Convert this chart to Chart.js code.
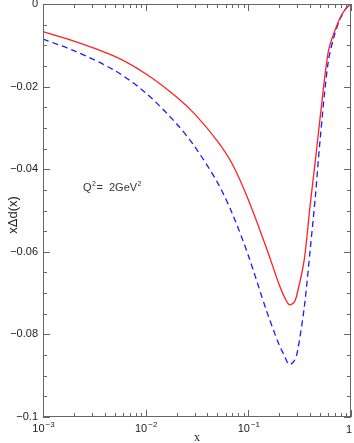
<!DOCTYPE html>
<html>
<head>
<meta charset="utf-8">
<script src="https://cdn.jsdelivr.net/npm/chart.js@4.4.1/dist/chart.umd.min.js"></script>
<style>
  html, body { margin: 0; padding: 0; background: #fff; }
  #wrap { width: 354px; height: 443px; }
</style>
</head>
<body>
<div id="wrap"><canvas id="myChart" width="354" height="443"></canvas></div>
<script>
// values
let xs = [0.001, 0.002, 0.005, 0.01, 0.02, 0.03, 0.05, 0.07, 0.1, 0.15, 0.2, 0.22, 0.25, 0.28, 0.3, 0.35, 0.4, 0.45, 0.5, 0.6, 0.7, 0.8, 0.9, 1]
let redVals = [-0.0067, -0.0090, -0.0127, -0.0169, -0.0225, -0.0266, -0.0332, -0.0388, -0.0474, -0.0591, -0.0680, -0.0705, -0.0728, -0.0722, -0.0700, -0.0620, -0.0487, -0.0378, -0.0276, -0.0116, -0.0063, -0.0029, -0.0010, 0]
let blueVals = [-0.0085, -0.0113, -0.0161, -0.0215, -0.0290, -0.0345, -0.0432, -0.0508, -0.0609, -0.0742, -0.0826, -0.0847, -0.0873, -0.0864, -0.0843, -0.0736, -0.0596, -0.0465, -0.0329, -0.0140, -0.0070, -0.0031, -0.0010, 0]
let yTicks = [0, -0.02, -0.04, -0.06, -0.08, -0.1]
let yTickLabels = ["0", "\u22120.02", "\u22120.04", "\u22120.06", "\u22120.08", "\u22120.1"]
let xTicks = [0.001, 0.01, 0.1, 1]
let xTickExp = ["\u22123", "\u22122", "\u22121", ""]

function pts(vals) {
  let out = []
  for (let i = 0; i < xs.length; i++) out.push({x: xs[i], y: vals[i]})
  return out
}

// frame, inward ticks, labels drawn with the chart's scales
let framePlugin = {
  id: "frame",
  afterDraw(chart) {
    let c = chart.ctx
    let a = chart.chartArea
    let sx = chart.scales.x
    let sy = chart.scales.y
    c.save()
    c.strokeStyle = "#666"
    c.lineWidth = 1
    c.strokeRect(a.left + 0.5, a.top + 0.5, a.right - a.left - 1, a.bottom - a.top - 1)
    c.beginPath()
    // x ticks, decades major, 2..9 minor
    for (let d = -3; d <= 0; d++) {
      for (let m = 1; m <= 9; m++) {
        let v = m * Math.pow(10, d)
        if (v > 1.0001) break
        let px = Math.round(sx.getPixelForValue(v)) + 0.5
        let len = m == 1 ? 7 : 4
        c.moveTo(px, a.bottom); c.lineTo(px, a.bottom - len)
        c.moveTo(px, a.top); c.lineTo(px, a.top + len)
      }
    }
    // y ticks every 0.005
    for (let k = 0; k <= 20; k++) {
      let v = -k * 0.005
      let py = Math.round(sy.getPixelForValue(v)) + 0.5
      let len = k % 4 == 0 ? 7 : 4
      c.moveTo(a.left, py); c.lineTo(a.left + len, py)
      c.moveTo(a.right, py); c.lineTo(a.right - len, py)
    }
    c.stroke()

    c.fillStyle = "#222"
    c.font = "11px 'Liberation Sans'"
    c.textAlign = "right"
    c.textBaseline = "middle"
    yTicks.forEach((v, i) => {
      c.fillText(yTickLabels[i], a.left - 5, sy.getPixelForValue(v))
    })

    c.textBaseline = "alphabetic"
    xTicks.forEach((v, i) => {
      let px = sx.getPixelForValue(v)
      c.font = "11px 'Liberation Sans'"
      if (xTickExp[i] == "") {
        c.textAlign = "center"
        c.fillText("1", px - 2, a.bottom + 16)
        return
      }
      let w1 = c.measureText("10").width
      c.font = "8px 'Liberation Sans'"
      let w2 = c.measureText(xTickExp[i]).width
      let x0 = px - (w1 + w2) / 2
      c.textAlign = "left"
      c.fillText(xTickExp[i], x0 + w1 + 1, a.bottom + 10)
      c.font = "11px 'Liberation Sans'"
      c.fillText("10", x0, a.bottom + 15)
    })

    // axis titles
    c.textAlign = "center"
    c.font = "12px 'Liberation Serif'"
    c.fillText("x", (a.left + a.right) / 2, 441)
    c.save()
    c.translate(13, 215)
    c.rotate(-Math.PI / 2)
    c.font = "13px 'Liberation Sans'"
    c.textBaseline = "middle"
    c.fillText("x\u0394d(x)", 0, 0)
    c.restore()

    // Q^2 label
    c.textAlign = "left"
    c.fillStyle = "#333"
    c.font = "11px 'Liberation Sans'"
    let tx = 83, ty = 191
    c.fillText("Q", tx, ty)
    tx += c.measureText("Q").width
    c.font = "7px 'Liberation Sans'"
    c.fillText("2", tx + 0.5, ty - 5)
    tx += c.measureText("2").width + 1
    c.font = "11px 'Liberation Sans'"
    c.fillText("=  2GeV", tx, ty)
    tx += c.measureText("=  2GeV").width
    c.font = "7px 'Liberation Sans'"
    c.fillText("2", tx + 0.5, ty - 5)
    c.restore()
  }
}

let ctx = document.getElementById("myChart").getContext("2d")
let myChart = new Chart(ctx, {
  type: "line",
  data: {
    datasets: [{
      data: pts(redVals),
      borderColor: "#ff2020",
      borderWidth: 1.3,
      pointRadius: 0,
      fill: false,
      tension: 0.3
    }, {
      data: pts(blueVals),
      borderColor: "#1a1aff",
      borderWidth: 1.3,
      borderDash: [6, 4],
      pointRadius: 0,
      fill: false,
      tension: 0.3
    }]
  },
  options: {
    responsive: false,
    devicePixelRatio: 1,
    animation: false,
    layout: { padding: { left: 43, right: 3, top: 4, bottom: 26 } },
    plugins: { legend: { display: false }, tooltip: { enabled: false } },
    scales: {
      x: { type: "logarithmic", min: 0.001, max: 1, display: false },
      y: { type: "linear", min: -0.1, max: 0, display: false }
    }
  },
  plugins: [framePlugin]
})
</script>
</body>
</html>
